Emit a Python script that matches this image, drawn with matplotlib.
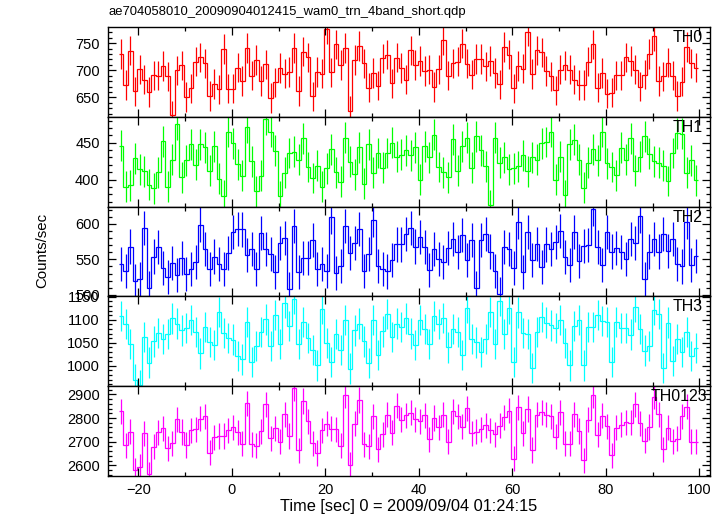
import numpy as np
import matplotlib
matplotlib.use("Agg")
import matplotlib.pyplot as plt
from matplotlib.ticker import MultipleLocator

plt.rcParams['font.family'] = ['Liberation Sans', 'DejaVu Sans']

title = "ae704058010_20090904012415_wam0_trn_4band_short.qdp"
xlabel = "Time [sec] 0 = 2009/09/04 01:24:15"
ylabel = "Counts/sec"

time_start = -24.25
bin_width = 1.0

band_names = ["TH0", "TH1", "TH2", "TH3", "TH0123"]

TH0 = [730, 673, 736, 661, 702, 683, 660, 691, 690, 708,
       689, 617, 700, 709, 651, 667, 716, 724, 713, 653,
       675, 665, 739, 666, 666, 705, 680, 741, 690, 719,
       680, 711, 649, 678, 704, 694, 697, 741, 662, 734,
       724, 652, 697, 694, 776, 696, 748, 710, 741, 625,
       719, 745, 713, 668, 695, 672, 722, 729, 676, 723,
       704, 683, 737, 710, 717, 699, 701, 669, 702, 756,
       690, 713, 716, 749, 712, 692, 721, 721, 707, 717,
       695, 674, 743, 729, 667, 708, 703, 771, 693, 737,
       733, 699, 689, 663, 701, 709, 701, 683, 673, 673,
       716, 748, 668, 695, 657, 659, 691, 691, 724, 717,
       701, 670, 692, 730, 763, 680, 689, 714, 690, 653,
       679, 743, 713, 705]

TH1 = [446, 390, 392, 429, 414, 411, 393, 388, 410, 452,
       390, 427, 475, 403, 426, 448, 420, 448, 444, 412,
       445, 401, 378, 465, 449, 421, 405, 471, 425, 384,
       405, 482, 465, 439, 377, 409, 436, 438, 427, 456,
       417, 402, 419, 390, 415, 441, 410, 397, 457, 424,
       407, 444, 394, 448, 409, 436, 416, 436, 450, 431,
       434, 440, 433, 444, 400, 445, 430, 461, 417, 410,
       403, 455, 412, 445, 457, 416, 459, 440, 418, 365,
       457, 423, 430, 414, 415, 418, 433, 411, 430, 427,
       449, 451, 465, 400, 431, 379, 448, 454, 427, 389,
       423, 441, 426, 465, 422, 417, 406, 443, 427, 456,
       412, 431, 459, 435, 425, 423, 419, 398, 436, 463,
       462, 409, 426, 399]

TH2 = [544, 534, 568, 520, 522, 594, 510, 554, 567, 538,
       525, 545, 528, 552, 530, 537, 546, 599, 564, 537,
       554, 543, 536, 559, 588, 593, 592, 556, 565, 536,
       587, 564, 557, 532, 573, 580, 508, 597, 532, 552,
       552, 577, 537, 544, 534, 609, 531, 541, 597, 559,
       573, 593, 534, 558, 605, 541, 537, 533, 549, 571,
       571, 586, 594, 568, 581, 567, 535, 565, 550, 546,
       566, 579, 560, 584, 549, 577, 510, 577, 586, 561,
       534, 501, 567, 565, 538, 603, 532, 588, 549, 572,
       539, 571, 565, 574, 590, 553, 542, 588, 548, 569,
       570, 621, 567, 542, 588, 561, 566, 560, 550, 579,
       573, 611, 522, 561, 579, 561, 586, 562, 579, 543,
       540, 603, 542, 555]

TH3 = [1109, 1091, 1047, 970, 958, 1062, 1007, 1053, 1072, 1059,
       1069, 1103, 1092, 1077, 1082, 1099, 1073, 1027, 1084, 1052,
       1045, 1117, 1071, 1060, 1057, 1021, 1014, 1095, 1008, 1043,
       1073, 1101, 1043, 1110, 1047, 1137, 1087, 1146, 1047, 1095,
       1060, 1034, 1001, 1124, 1049, 1009, 1069, 1035, 1099, 994,
       1077, 1092, 1053, 1006, 1099, 1023, 1075, 1113, 1062, 1092,
       1085, 1103, 1070, 1046, 1099, 1080, 1047, 1108, 1091, 1104,
       1040, 1080, 1074, 1023, 1126, 1058, 1051, 1030, 1058, 1117,
       1047, 1141, 1069, 1125, 1008, 1116, 1071, 1069, 995, 1074,
       1106, 1094, 1088, 1082, 1100, 1050, 1001, 1087, 1099, 1001,
       1084, 1084, 1110, 1097, 1096, 1009, 1096, 1082, 1082, 1068,
       1128, 1080, 1033, 1043, 1122, 1113, 995, 1094, 1011, 1058,
       1030, 1074, 1021, 1039]

TH0123 = [2828, 2685, 2742, 2580, 2594, 2735, 2562, 2678, 2739, 2756,
          2672, 2694, 2794, 2741, 2686, 2749, 2752, 2797, 2807, 2654,
          2718, 2724, 2724, 2749, 2761, 2739, 2692, 2862, 2690, 2682,
          2744, 2858, 2714, 2756, 2699, 2816, 2724, 2925, 2663, 2872,
          2786, 2693, 2652, 2749, 2775, 2755, 2752, 2682, 2896, 2603,
          2776, 2876, 2690, 2680, 2807, 2668, 2732, 2813, 2737, 2851,
          2792, 2811, 2823, 2794, 2786, 2811, 2710, 2800, 2761, 2814,
          2699, 2828, 2808, 2763, 2841, 2735, 2742, 2752, 2769, 2749,
          2731, 2768, 2803, 2831, 2627, 2845, 2735, 2838, 2665, 2814,
          2825, 2813, 2808, 2721, 2824, 2692, 2692, 2816, 2745, 2621,
          2792, 2896, 2730, 2810, 2765, 2642, 2758, 2772, 2782, 2780,
          2858, 2778, 2704, 2762, 2889, 2816, 2668, 2758, 2701, 2713,
          2807, 2848, 2699, 2699]

# typical 1-sigma error per band
band_errors = [27, 21, 24, 33, 53]

series = [TH0, TH1, TH2, TH3, TH0123]
colors = ["#ff0000", "#00ff00", "#0000ff", "#00ffff", "#ff00ff"]
ylims = [(614, 779), (363, 485), (498, 624), (956, 1151), (2556, 2935)]
ymajor = [50, 50, 50, 50, 100]
yminor = [10, 10, 10, 10, 20]
label_x = [0.988, 0.988, 0.988, 0.988, 0.995]

fig = plt.figure(figsize=(7.25, 5.16), dpi=100)
gs = fig.add_gridspec(5, 1, left=0.149, right=0.979, top=0.947, bottom=0.078, hspace=0)
axes = [fig.add_subplot(gs[i]) for i in range(5)]
for i in range(1, 5):
    axes[i].sharex(axes[0])

for i, ax in enumerate(axes):
    vals = np.array(series[i], dtype=float)
    n = len(vals)
    edges = time_start + bin_width * np.arange(n + 1)
    centers = 0.5 * (edges[:-1] + edges[1:])
    ax.stairs(vals, edges, baseline=None, color=colors[i], lw=0.9)
    ax.errorbar(centers, vals, yerr=band_errors[i], fmt='none', ecolor=colors[i],
                elinewidth=0.9, capsize=0)
    ax.set_ylim(*ylims[i])
    ax.set_xlim(-26.5, 102.2)
    ax.yaxis.set_major_locator(MultipleLocator(ymajor[i]))
    ax.yaxis.set_minor_locator(MultipleLocator(yminor[i]))
    ax.xaxis.set_major_locator(MultipleLocator(20))
    ax.xaxis.set_minor_locator(MultipleLocator(10))
    ax.tick_params(which='both', direction='in', top=True, right=True,
                   labelsize=10.5, width=0.9)
    ax.tick_params(which='major', length=6, pad=6)
    ax.tick_params(which='minor', length=3)
    for sp in ax.spines.values():
        sp.set_linewidth(1.0)
    if i < 4:
        ax.tick_params(labelbottom=False)
    ax.text(label_x[i], 0.885, band_names[i], transform=ax.transAxes,
            ha='right', va='center', fontsize=11.5)

axes[4].tick_params(axis='x', pad=5)

fig.text(0.149, 0.977, title, ha='left', va='center', fontsize=9.4)
fig.text(0.058, 0.514, ylabel, rotation=90, ha='center', va='center', fontsize=10.8)
fig.text(0.564, 0.018, xlabel, ha='center', va='center', fontsize=11.8)

fig.savefig("out.png", dpi=100)
